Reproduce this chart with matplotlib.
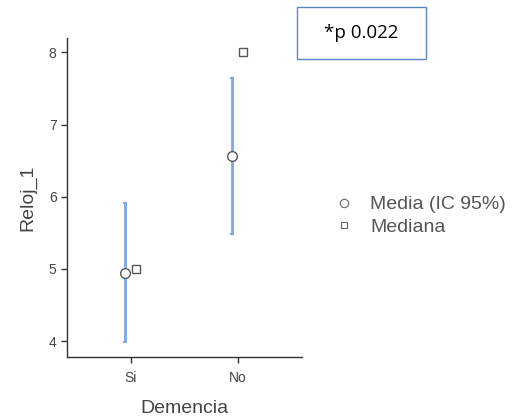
import matplotlib.pyplot as plt
import numpy as np

groups = ['Si', 'No']
media = [4.94, 6.56]
ic_low = [3.99, 5.49]
ic_high = [5.91, 7.65]
mediana = [5, 8]

plt.rcParams['font.family'] = ['Liberation Sans', 'DejaVu Sans']

fig = plt.figure(figsize=(5.13, 4.16), dpi=100)
ax = fig.add_axes([0.1306, 0.1418, 0.4581, 0.7669])

x = np.arange(len(groups))
media = np.array(media)
yerr = [media - np.array(ic_low), np.array(ic_high) - media]

ax.errorbar(x - 0.055, media, yerr=yerr, fmt='none', ecolor='#7ba7e6',
            elinewidth=2, capsize=1.5, capthick=1.5, zorder=2)
ax.plot(x - 0.055, media, 'o', ms=7, mfc='white', mec='#555555', mew=1,
        ls='none', zorder=3, label='Media (IC 95%)')
ax.plot(x + 0.05, mediana, 's', ms=6, mfc='white', mec='#555555', mew=1,
        ls='none', zorder=3, label='Mediana')

ax.set_xlim(-0.598, 1.598)
ax.set_ylim(3.78, 8.2)
ax.set_xticks(x)
ax.set_xticklabels(groups)
ax.set_yticks([4, 5, 6, 7, 8])
ax.tick_params(colors='#333333', labelsize=10, length=4, width=1)
ax.tick_params(axis='x', pad=6, labelcolor='#444444')
ax.tick_params(axis='y', labelcolor='#444444')
for s in ['top', 'right']:
    ax.spines[s].set_visible(False)
for s in ['left', 'bottom']:
    ax.spines[s].set_color('#333333')
    ax.spines[s].set_linewidth(1)

ax.set_xlabel('Demencia', fontsize=14, color='#444444', labelpad=11)
ax.set_ylabel('Reloj_1', fontsize=14, color='#444444', labelpad=9)

# legend to the right of the plot
h1 = plt.Line2D([], [], marker='o', ls='none', ms=6, mfc='white', mec='#666666', mew=0.8)
h2 = plt.Line2D([], [], marker='s', ls='none', ms=5, mfc='white', mec='#666666', mew=0.8)
fig.legend([h1, h2], ['Media (IC 95%)', 'Mediana'], loc='upper left',
           bbox_to_anchor=(0.633, 0.548), frameon=False, fontsize=14,
           handletextpad=0.75, labelspacing=0.25, handlelength=1.2,
           labelcolor='#555555', borderaxespad=0)

fig.text(0.7037, 0.92, '*p 0.022', ha='center', va='center', fontsize=13.5,
         family=['Open Sans', 'DejaVu Sans'], color='black')
box = plt.Rectangle((297 / 513, 1 - 59 / 416), 129 / 513, 52 / 416,
                    transform=fig.transFigure, fill=False, ec='#5b86c5', lw=1)
fig.patches.append(box)

fig.savefig('out.png', dpi=100)
